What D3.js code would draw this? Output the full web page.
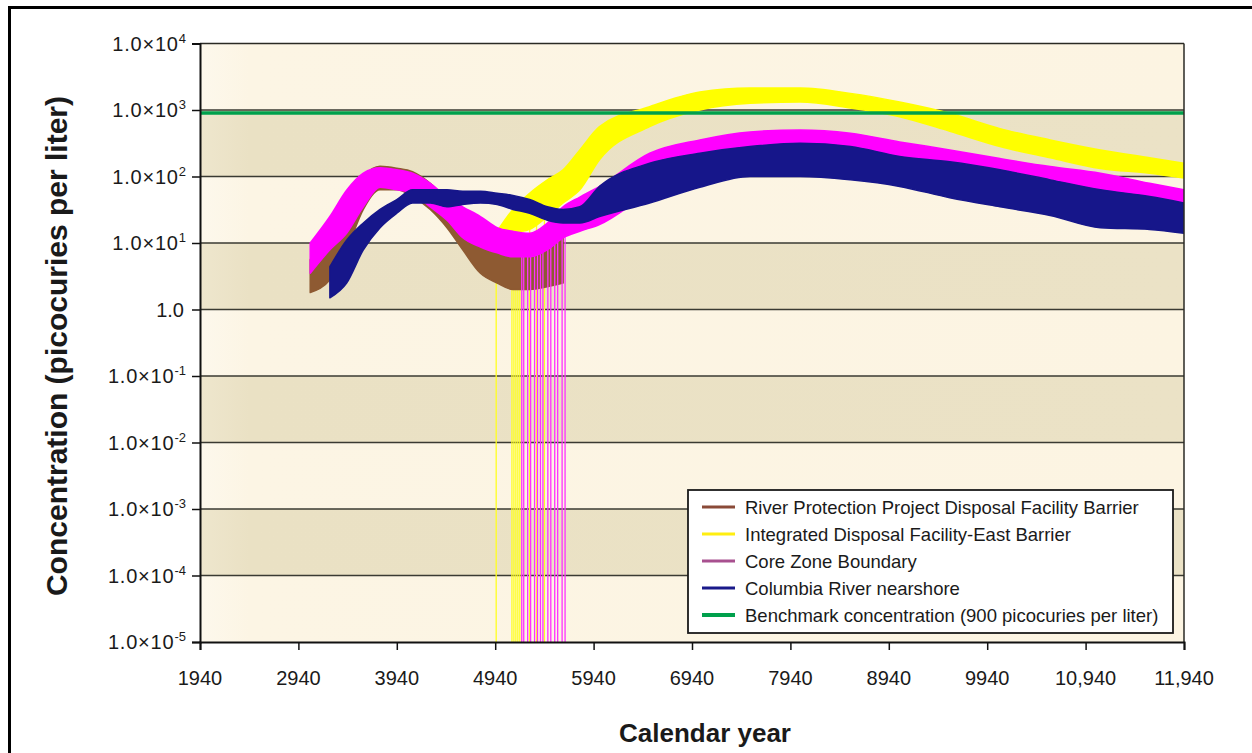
<!DOCTYPE html>
<html><head><meta charset="utf-8">
<script src="https://cdn.jsdelivr.net/npm/d3@7/dist/d3.min.js"></script>
<style>body{margin:0;background:#fff}svg{display:block}</style>
</head><body><svg id="chart" width="1252" height="753"></svg>
<script>
// ---- data ----
const years = [3060,3260,3430,3600,3770,3940,4100,4280,4450,4610,4790,4960,5120,5290,5470,5630,5800,6000,6510,7020,7530,8040,8550,9050,9560,10070,10580,11090,11590,11940];
// River Protection Project Disposal Facility Barrier (low / high of noisy band)
const rppLo = [1.8,2.8,7.9,32,63,63,50,32,17,7.9,3.5,2.5,2.0,2.0,2.2,2.5,null,null,null,null,null,null,null,null,null,null,null,null,null,null];
const rppHi = [5.6,20,40,100,142,133,118,79,45,28,17,14,11,11,12.6,14,null,null,null,null,null,null,null,null,null,null,null,null,null,null];
// Integrated Disposal Facility-East Barrier
const idfLo = [null,null,null,null,null,null,null,null,null,null,null,7,14,16,25,40,63,178,562,1000,1259,1318,1072,794,479,282,191,132,112,95];
const idfHi = [null,null,null,null,null,null,null,null,null,null,null,15,32,56,89,126,251,562,1122,1862,2138,2138,1778,1318,891,525,355,251,191,158];
// Core Zone Boundary
const czbLo = [3.5,7.9,14,35,69,63,56,35,22,12,8.7,7.1,6.2,6.2,7.9,12,15,19,56,112,158,178,141,120,76,56,45,35,32,28];
const czbHi = [10,25,62,112,135,126,112,79,49,35,25,17,15,14,20,35,49,71,224,355,468,501,447,331,251,186,141,112,79,63];
// Columbia River nearshore
const crnLo = [null,1.5,2.5,7.9,17,28,40,40,35,38,40,38,32,28,22,20,20,25,40,69,100,100,89,71,48,35,26,17,16,14];
const crnHi = [null,4.4,11,20,32,45,63,63,63,60,60,56,52,45,35,32,35,71,158,224,282,316,282,200,166,126,89,63,50,40];
// Benchmark concentration
const benchmark = 900;
// spikes that fall to zero (off the bottom of the log axis)
const idfDrops = [4950,5110,5130,5150,5170,5190,5290,5360,5440];
const czbDrops = [5210,5230,5270,5300,5340,5370,5400,5425,5475,5505,5545,5575,5620,5650];

const xTicks = [1940,2940,3940,4940,5940,6940,7940,8940,9940,10940,11940];
const xTickLabels = ["1940","2940","3940","4940","5940","6940","7940","8940","9940","10,940","11,940"];
const yTicks = [1e4,1e3,1e2,1e1,1,1e-1,1e-2,1e-3,1e-4,1e-5];
const yTickExp = ["4","3","2","1",null,"-1","-2","-3","-4","-5"];

const seriesNames = ["River Protection Project Disposal Facility Barrier","Integrated Disposal Facility-East Barrier","Core Zone Boundary","Columbia River nearshore","Benchmark concentration (900 picocuries per liter)"];
const seriesColors = ["#8e5a32","#ffff00","#ff00ff","#16168a","#00a04c"];
const legendColors = ["#8a4a38","#ffee10","#a8508f","#1a1a8a","#00a04c"];

// ---- layout ----
const svg = d3.select("#chart");
const L = 200, R = 1184, T = 43.5, B = 642;
const x = d3.scaleLinear().domain([1940,11940]).range([L,R]);
const y = d3.scaleLog().domain([1e-5,1e4]).range([B,T]);

// outer frame
svg.append("line").attr("x1",8).attr("x2",1252).attr("y1",7.5).attr("y2",7.5).attr("stroke","#000").attr("stroke-width",3);
svg.append("line").attr("x1",9.5).attr("x2",9.5).attr("y1",6).attr("y2",753).attr("stroke","#000").attr("stroke-width",3);

const defs = svg.append("defs");
const gl = defs.append("linearGradient").attr("id","gLight");
gl.append("stop").attr("offset","0").attr("stop-color","#fdf8ec");
gl.append("stop").attr("offset","0.05").attr("stop-color","#fcf5e4");
gl.append("stop").attr("offset","1").attr("stop-color","#fcf4e2");
const gd = defs.append("linearGradient").attr("id","gDark");
gd.append("stop").attr("offset","0").attr("stop-color","#eee6cd");
gd.append("stop").attr("offset","0.05").attr("stop-color","#eae1c4");
gd.append("stop").attr("offset","1").attr("stop-color","#ebe2c6");
defs.append("clipPath").attr("id","plotClip").append("rect").attr("x",L).attr("y",T).attr("width",R-L).attr("height",B-T);

// alternating bands
for (let i = 0; i < yTicks.length-1; i++) {
  svg.append("rect").attr("x",L).attr("width",R-L)
    .attr("y",y(yTicks[i])).attr("height",y(yTicks[i+1])-y(yTicks[i]))
    .attr("fill", i%2===0 ? "url(#gLight)" : "url(#gDark)");
}
// grid lines
svg.append("g").selectAll("line").data(yTicks.slice(1,-1)).join("line")
  .attr("x1",L).attr("x2",R).attr("y1",d=>y(d)).attr("y2",d=>y(d))
  .attr("stroke","#3a3a32").attr("stroke-width",1.3);

const plot = svg.append("g").attr("clip-path","url(#plotClip)");

function drawBand(lo, hi, color) {
  const area = d3.area()
    .defined((d,i)=>lo[i]!=null && hi[i]!=null)
    .x((d,i)=>x(years[i])).y0((d,i)=>y(lo[i])).y1((d,i)=>y(hi[i]))
    .curve(d3.curveMonotoneX);
  plot.append("path").datum(years).attr("d",area)
    .attr("fill",color).attr("stroke",color).attr("stroke-width",1.5).attr("stroke-linejoin","round");
}
function loAt(lo, yr) {
  const pts = years.map((yy,i)=>[yy,lo[i]]).filter(p=>p[1]!=null);
  const s = d3.scaleLinear().domain(pts.map(p=>p[0])).range(pts.map(p=>Math.log10(p[1]))).clamp(true);
  return Math.pow(10, s(yr));
}
function drawDrops(drops, lo, color) {
  plot.append("g").selectAll("line").data(drops).join("line")
    .attr("x1",d=>x(d)).attr("x2",d=>x(d))
    .attr("y1",d=>y(loAt(lo,d))).attr("y2",B)
    .attr("stroke",color).attr("stroke-width",1.3);
}

drawDrops(idfDrops, idfLo, "#ffff20");
drawBand(idfLo, idfHi, seriesColors[1]);
drawBand(rppLo, rppHi, seriesColors[0]);
drawDrops(czbDrops, czbLo, "#ff30ff");
drawBand(czbLo, czbHi, seriesColors[2]);
drawBand(crnLo, crnHi, seriesColors[3]);

// benchmark
plot.append("line").attr("x1",L).attr("x2",R).attr("y1",y(benchmark)).attr("y2",y(benchmark))
  .attr("stroke",seriesColors[4]).attr("stroke-width",3.5);

// top border of plot & right border
svg.append("line").attr("x1",L).attr("x2",R).attr("y1",T).attr("y2",T).attr("stroke","#2a2a24").attr("stroke-width",1.5);
svg.append("line").attr("x1",R).attr("x2",R).attr("y1",T).attr("y2",B).attr("stroke","#2a2a24").attr("stroke-width",1.5);

// axes
const yAxis = d3.axisLeft(y).tickValues(yTicks).tickSize(8).tickFormat("");
const yg = svg.append("g").attr("transform",`translate(${L},0)`).call(yAxis);
yg.select(".domain").attr("stroke","#111").attr("stroke-width",2);
yg.selectAll(".tick line").attr("stroke","#111").attr("stroke-width",1.5);

const xAxis = d3.axisBottom(x).tickValues(xTicks).tickSize(8).tickFormat("");
const xg = svg.append("g").attr("transform",`translate(0,${B})`).call(xAxis);
xg.select(".domain").attr("stroke","#111").attr("stroke-width",2);
xg.selectAll(".tick line").attr("stroke","#111").attr("stroke-width",1.5);

const font = "Liberation Sans, Arial, Helvetica, sans-serif";
// y tick labels
yTicks.forEach((v,i)=>{
  const t = svg.append("text").attr("x",186).attr("y",y(v)+7).attr("text-anchor","end")
    .attr("font-family",font).attr("font-size",20).attr("fill","#1a1a1a");
  if (yTickExp[i]==null) { t.text("1.0"); t.attr("x",184); }
  else {
    t.append("tspan").attr("letter-spacing",0.8).text("1.0\u00d710");
    t.append("tspan").attr("font-size",13).attr("dy",-8).text(yTickExp[i]);
  }
});
// x tick labels
xTicks.forEach((v,i)=>{
  svg.append("text").attr("x",x(v)).attr("y",685).attr("text-anchor","middle")
    .attr("font-family",font).attr("font-size",20).attr("fill","#1a1a1a").text(xTickLabels[i]);
});

// axis titles
svg.append("text").attr("transform","translate(67,346) rotate(-90)").attr("text-anchor","middle")
  .attr("font-family",font).attr("font-weight","bold").attr("font-size",30).attr("fill","#1a1a1a")
  .text("Concentration (picocuries per liter)");
svg.append("text").attr("x",705).attr("y",742).attr("text-anchor","middle")
  .attr("font-family",font).attr("font-weight","bold").attr("font-size",26).attr("fill","#1a1a1a")
  .text("Calendar year");

// legend
const lg = svg.append("g");
lg.append("rect").attr("x",688).attr("y",490).attr("width",485).attr("height",143)
  .attr("fill","#fff").attr("stroke","#1a1a1a").attr("stroke-width",1.8);
seriesNames.forEach((n,i)=>{
  const cy = 507 + i*27;
  lg.append("line").attr("x1",702).attr("x2",735).attr("y1",cy).attr("y2",cy)
    .attr("stroke",legendColors[i]).attr("stroke-width", i===4 ? 4 : 3);
  lg.append("text").attr("x",745).attr("y",cy+6.5).attr("font-family",font).attr("font-size",18.5)
    .attr("fill","#1a1a1a").text(n);
});
</script></body></html>
